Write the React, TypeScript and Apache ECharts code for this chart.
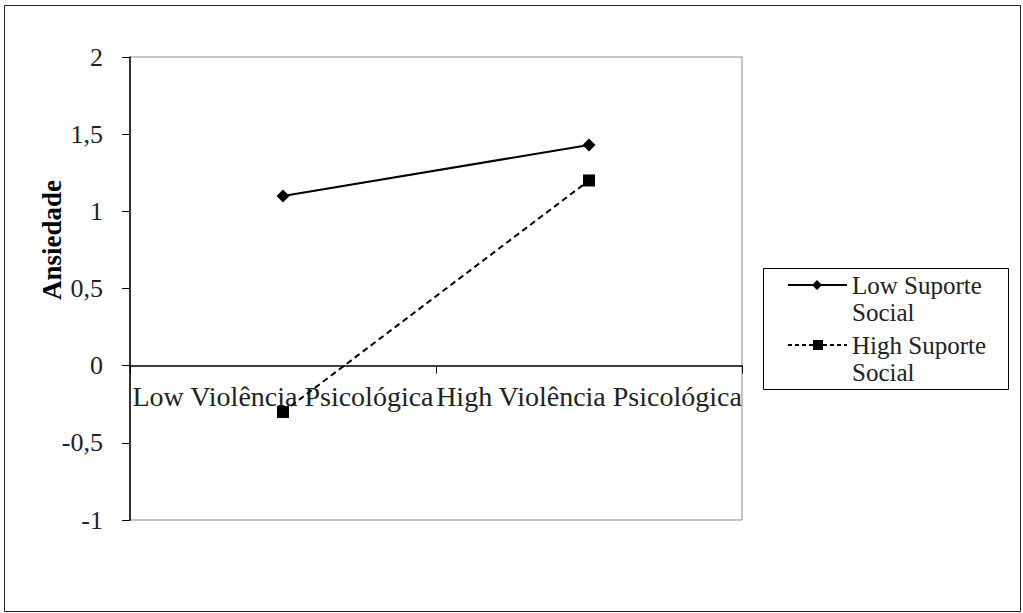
import React, { useEffect, useRef } from "react";
import * as echarts from "echarts";

const categories = ["Low Violência Psicológica", "High Violência Psicológica"];
const seriesNames = ["Low Suporte Social", "High Suporte Social"];
const legendLines = [["Low Suporte", "Social"], ["High Suporte", "Social"]];
const lowSuporte = [1.1, 1.43];
const highSuporte = [-0.3, 1.2];
const yAxisName = "Ansiedade";

const FONT = "'Liberation Serif', 'Times New Roman', serif";

export default function App() {
  const ref = useRef<HTMLDivElement>(null);
  useEffect(() => {
    if (!ref.current) return;
    const chart = echarts.init(ref.current, undefined, { renderer: "svg" });
    const legendX = 763;
    const legendY = 268;
    chart.setOption({
      animation: false,
      backgroundColor: "#fff",
      grid: {
        left: 130,
        top: 57,
        width: 612,
        height: 463,
        show: true,
        borderColor: "#8c8c8c",
        borderWidth: 1,
        backgroundColor: "transparent",
      },
      xAxis: {
        type: "category",
        data: categories,
        boundaryGap: true,
        axisLine: { onZero: true, lineStyle: { color: "#000", width: 1.5 } },
        axisTick: { show: true, inside: false, length: 8, lineStyle: { color: "#000" } },
        axisLabel: {
          color: "#222",
          fontFamily: FONT,
          fontSize: 28,
          margin: -138,
          interval: 0,
        },
        splitLine: { show: false },
      },
      yAxis: {
        type: "value",
        min: -1,
        max: 2,
        interval: 0.5,
        axisLine: { show: true, lineStyle: { color: "#000", width: 1.5 } },
        axisTick: { show: true, inside: false, length: 8, lineStyle: { color: "#000" } },
        axisLabel: {
          color: "#222",
          fontFamily: FONT,
          fontSize: 26,
          margin: 27,
          formatter: (v: number) => String(v).replace(".", ","),
        },
        splitLine: { show: false },
      },
      series: [
        {
          name: seriesNames[0],
          type: "line",
          data: lowSuporte,
          symbol: "diamond",
          symbolSize: 13,
          lineStyle: { color: "#000", width: 2, type: "solid" },
          itemStyle: { color: "#000" },
        },
        {
          name: seriesNames[1],
          type: "line",
          data: highSuporte,
          symbol: "rect",
          symbolSize: 12,
          lineStyle: { color: "#000", width: 2, type: [6, 4] },
          itemStyle: { color: "#000" },
        },
      ],
      graphic: [
        {
          type: "rect",
          shape: { x: 4.5, y: 5.5, width: 1016, height: 606 },
          style: { fill: "none", stroke: "#222", lineWidth: 1 },
          silent: true,
        },
        {
          type: "text",
          x: 52,
          y: 240,
          rotation: Math.PI / 2,
          style: {
            text: yAxisName,
            font: `bold 27px ${FONT}`,
            fill: "#000",
            align: "center",
            verticalAlign: "middle",
          },
        },
        {
          type: "group",
          x: legendX,
          y: legendY,
          children: [
            {
              type: "rect",
              shape: { x: 0.5, y: 0.5, width: 245, height: 121 },
              style: { fill: "#fff", stroke: "#000", lineWidth: 1 },
            },
            {
              type: "line",
              shape: { x1: 25, y1: 17, x2: 84, y2: 17 },
              style: { stroke: "#000", lineWidth: 2 },
            },
            {
              type: "polygon",
              shape: { points: [[54, 12], [59, 17], [54, 22], [49, 17]] },
              style: { fill: "#000" },
            },
            {
              type: "text",
              x: 89,
              y: 4,
              style: {
                text: legendLines[0].join("\n"),
                font: `25px ${FONT}`,
                lineHeight: 27,
                fill: "#222",
                verticalAlign: "top",
              },
            },
            {
              type: "line",
              shape: { x1: 25, y1: 77, x2: 84, y2: 77 },
              style: { stroke: "#000", lineWidth: 2, lineDash: [4, 3] },
            },
            {
              type: "rect",
              shape: { x: 50, y: 72, width: 10, height: 10 },
              style: { fill: "#000" },
            },
            {
              type: "text",
              x: 89,
              y: 64,
              style: {
                text: legendLines[1].join("\n"),
                font: `25px ${FONT}`,
                lineHeight: 27,
                fill: "#222",
                verticalAlign: "top",
              },
            },
          ],
        },
      ],
    });
    return () => chart.dispose();
  }, []);
  return <div ref={ref} style={{ width: 1023, height: 613, position: "absolute", left: 0, top: 0 }} />;
}
